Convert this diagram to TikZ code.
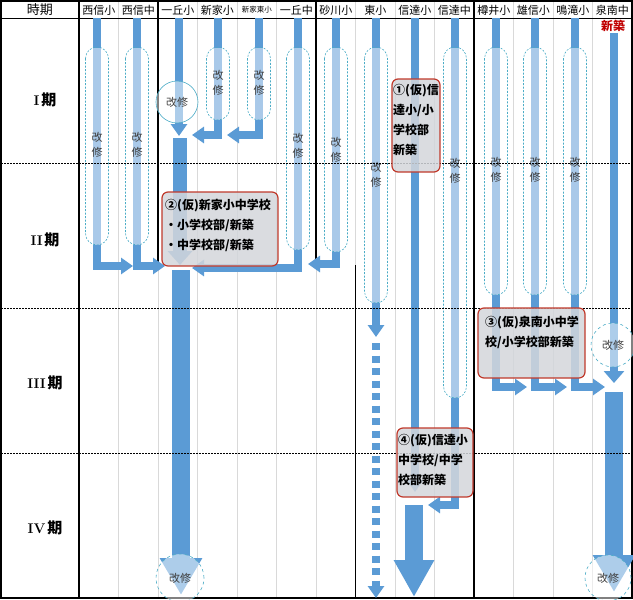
\documentclass[tikz,border=0pt]{standalone}
\usepackage{fontspec}
\newfontfamily\jp{Noto Sans CJK JP}
\usetikzlibrary{arrows.meta}

\definecolor{barblue}{HTML}{5B9BD5}
\definecolor{paleblue}{HTML}{A9C9E9}
\definecolor{capline}{HTML}{4BACC6}
\definecolor{boxred}{HTML}{C0392B}
\definecolor{boxgray}{HTML}{D3D6DB}
\definecolor{textgray}{HTML}{404040}
\definecolor{newred}{HTML}{C00000}

\begin{document}
\begin{tikzpicture}[
    x=1pt, y=-1pt,
    font=\jp\fontsize{11}{13}\selectfont,
    bar/.style={barblue, line width=8pt},
    palebar/.style={paleblue, line width=8pt},
    capsule/.style={draw=capline, line width=0.6pt, dash pattern=on 2pt off 1.5pt, rounded corners=11.5pt},
    ring/.style={circle, draw=capline, line width=0.6pt, fill=white, fill opacity=0.5, text opacity=1, inner sep=0pt, text=textgray},
    smallhead/.style={-{Triangle[width=16pt,length=12pt]}},
    bighead/.style={-{Triangle[width=40pt,length=37pt]}},
    plan/.style={draw=boxred, line width=1.2pt, rounded corners=6pt, fill=boxgray, fill opacity=0.85, anchor=north west, outer sep=0pt},
    plantext/.style={anchor=north west, inner sep=0pt, align=left, font=\jp\bfseries\fontsize{12}{20}\selectfont},
    vtext/.style={align=center, text=textgray, font=\jp\fontsize{11}{15}\selectfont},
    gridline/.style={gray!30, line width=0.6pt},
    groupline/.style={black, line width=1.2pt}
]
    \useasboundingbox (0,0) rectangle (633,600);

    % --- Grid ---
    \foreach \gx in {118.5,158,197.5,237,276.5,316,355.5,395,434.5,513.5,553,592.5}
        \draw[gridline] (\gx,1) -- (\gx,598);
    \draw[groupline] (79,1) -- (79,598);
    \draw[groupline] (158,1) -- (158,262);
    \draw[groupline] (316,1) -- (316,260);
    \draw[groupline] (355.5,265) -- (355.5,598);
    \draw[groupline] (474,1) -- (474,598);
    \draw[black, line width=0.8pt] (1,18) -- (632,18);
    \draw[black, line width=1.2pt] (1,1) rectangle (632,598);

    % --- Header ---
    \node (h0) at (40,10) {\fontsize{13}{13}\selectfont 時期};
    \foreach \name [count=\i] in {西信小,西信中,一丘小,新家小,{{\fontsize{7.5}{8}\selectfont 新家東小}},一丘中,砂川小,東小,信達小,信達中,樽井小,雄信小,鳴滝小,泉南中}
        \node (h\i) at ({79+39.5*(\i-0.5)},10) {\name};
    \node[text=newred, font=\jp\bfseries\fontsize{12}{12}\selectfont] (shin) at (613,26) {新築};

    % --- Periods ---
    \foreach \r/\py [count=\i] in {I/100,II/240,III/383,IV/528}
        \node (per\i) at (45,\py) {{\rmfamily\bfseries\fontsize{14}{14}\selectfont\r}\,{\bfseries\fontsize{15}{15}\selectfont 期}};

    % --- Renovation capsules ---
    \foreach \cx/\yb/\yt [count=\k] in {97/245/145,137/245/145,218/120/83,259/120/83,298/250/146,336/252/150,376/303/175,455/398/171,496/295/170,535/295/170,575/295/170} {
        \draw[bar] (\cx,18) -- (\cx,48);
        \draw[palebar] (\cx,48) -- (\cx,\yb);
        \draw[capsule] (\cx-11.5,47) rectangle (\cx+11.5,\yb);
        \node[vtext] (kai\k) at (\cx,\yt) {改\\修};
    }

    % --- Merging arrows ---
    \draw[bar, smallhead] (97,245) -- (97,266) -- (133,266);
    \draw[bar, smallhead] (137,245) -- (137,266) -- (165,266);
    \draw[bar, smallhead] (218,120) -- (218,135) -- (192,135);
    \draw[bar, smallhead] (259,120) -- (259,135) -- (227,135);
    \draw[bar, smallhead] (298,250) -- (298,268) -- (192,268);
    \draw[bar, smallhead] (336,252) -- (336,264) -- (308,264);
    \draw[bar, smallhead] (455,398) -- (455,505) -- (428,505);
    \draw[bar, smallhead] (496,295) -- (496,387) -- (527,387);
    \draw[bar, smallhead] (535,295) -- (535,387) -- (567,387);
    \draw[bar, smallhead] (575,295) -- (575,387) -- (605,387);

    % --- 東小 ---
    \draw[bar, smallhead] (376,303) -- (376,337);
    \draw[bar, smallhead, dash pattern=on 7pt off 5.5pt] (376,343) -- (376,598);

    % --- 一丘小 ---
    \draw[bar, smallhead] (179,18) -- (179,136);
    \node[ring, minimum size=42pt] (r1) at (177,102) {改修};
    \draw[barblue, line width=14pt, -{Triangle[width=24pt,length=14pt]}] (180,138) -- (180,265);
    \draw[barblue, line width=18pt, bighead] (181,270) -- (181,595);
    \node[ring, dashed, minimum size=48pt] (r2) at (180,578) {改修};

    % --- 信達小 ---
    \draw[bar, smallhead] (415,18) -- (415,492);
    \draw[barblue, line width=18pt, -{Triangle[width=38pt,length=37pt]}] (414,505) -- (414,597);

    % --- 泉南中 ---
    \draw[bar, -{Triangle[width=20pt,length=12pt]}] (614,33) -- (614,383);
    \node[ring, dashed, minimum size=44pt] (r3) at (613,345) {改修};
    \draw[barblue, line width=18pt, bighead] (614,392) -- (614,592);
    \node[ring, dashed, minimum size=46pt] (r4) at (608,578) {改修};

    % --- Period lines ---
    \foreach \ly in {163,308,453}
        \draw[black, line width=0.5pt, dash pattern=on 1.5pt off 1.5pt] (1,\ly) -- (632,\ly);

    % --- Plans ---
    \node[plan, minimum width=48pt, minimum height=93pt] (plan1) at (392,79) {};
    \node[plantext] (txt1) at (393,84) {①(仮)信\\達小/小\\学校部\\新築};
    \node[plan, minimum width=116pt, minimum height=74pt] (plan2) at (162,192) {};
    \node[plantext] (txt2) at (165,199) {②(仮)新家小中学校\\・小学校部/新築\\・中学校部/新築};
    \node[plan, minimum width=107pt, minimum height=70pt] (plan3) at (478,308) {};
    \node[plantext] (txt3) at (485,316) {③(仮)泉南小中学\\校/小学校部新築};
    \node[plan, minimum width=76pt, minimum height=69pt] (plan4) at (397,428) {};
    \node[plantext] (txt4) at (398,434) {④(仮)信達小\\中学校/中学\\校部新築};

\end{tikzpicture}
\end{document}
